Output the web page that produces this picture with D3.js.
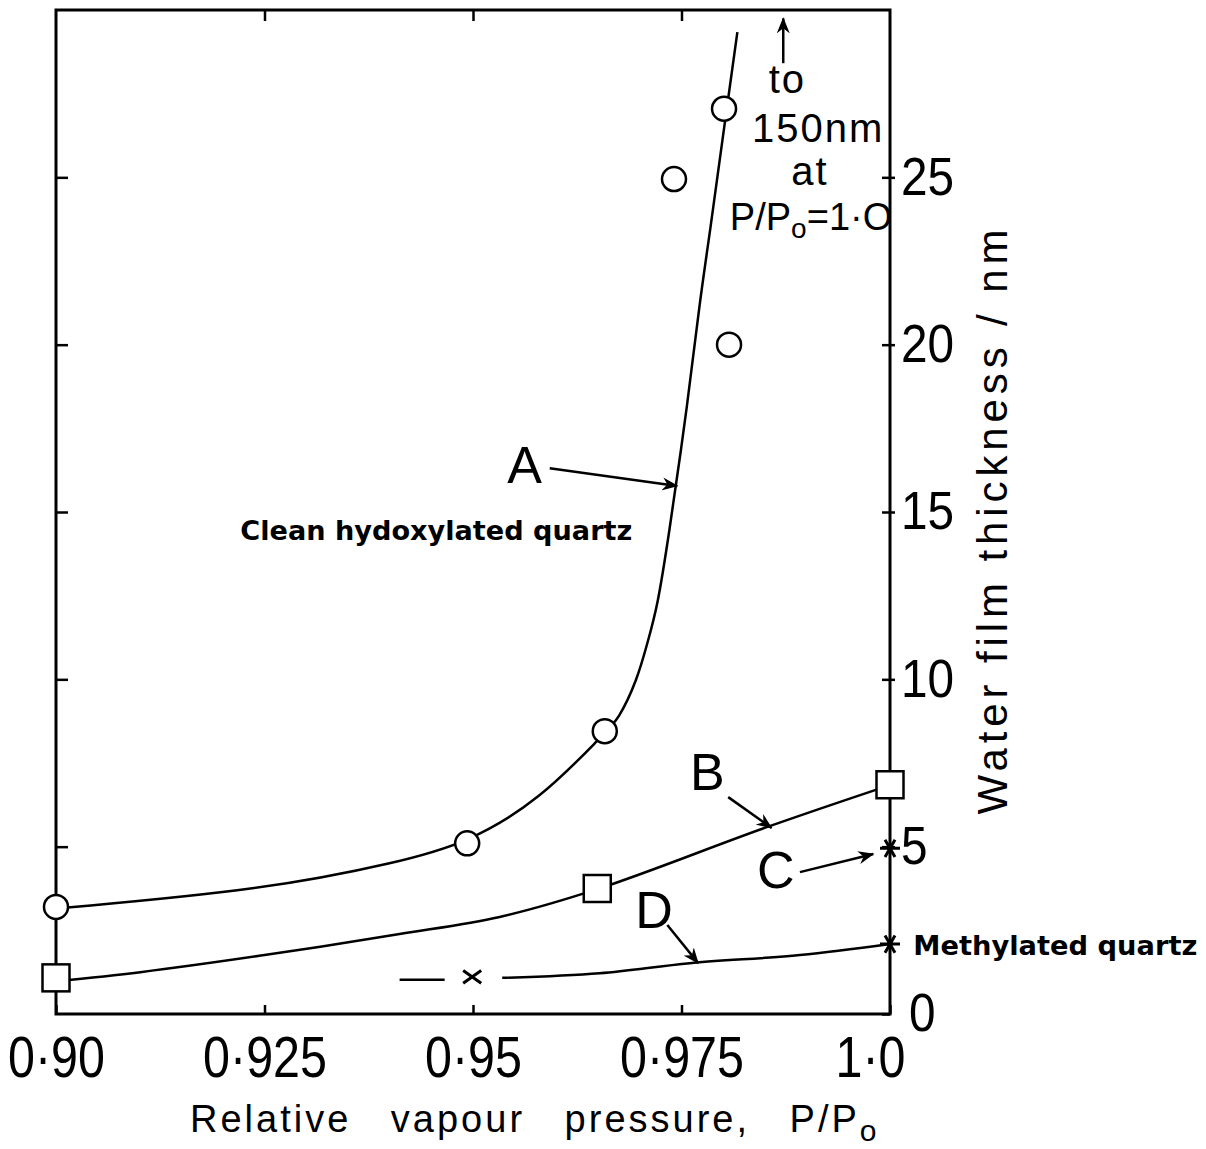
<!DOCTYPE html>
<html>
<head>
<meta charset="utf-8">
<script src="https://cdn.jsdelivr.net/npm/d3@7"></script>
<style>
body { margin: 0; background: #fff; }
svg { display: block; }
.frame { fill: none; stroke: #000; stroke-width: 3; }
.curve { fill: none; stroke: #000; stroke-width: 2.5; }
.marker { fill: #fff; stroke: #000; stroke-width: 2.5; }
.star { fill: none; stroke: #000; stroke-width: 3; }
.arrow { fill: none; stroke: #000; stroke-width: 2.5; }
.draft { font-family: "Liberation Sans", Arial, sans-serif; fill: #000; }
.note { font-family: "DejaVu Sans", sans-serif; font-weight: bold; fill: #000; }
</style>
</head>
<body>
<svg id="chart" width="1206" height="1149"></svg>
<script>
var xTicks = [0.90, 0.925, 0.95, 0.975, 1.0];
var xTickLabels = ["0·90", "0·925", "0·95", "0·975", "1·0"];
var yTicks = [0, 5, 10, 15, 20, 25];

// A: clean hydroxylated quartz
var curveAx = [0.900, 0.925, 0.9412, 0.9493, 0.958, 0.9658, 0.9674, 0.9697, 0.9710, 0.9721, 0.9734, 0.9758, 0.9772, 0.9784, 0.9799, 0.9817];
var curveAy = [3.15, 3.71, 4.54, 5.11, 6.39, 8.40, 8.78, 9.98, 11.17, 12.16, 14.16, 18.34, 21.33, 23.33, 26.11, 29.34];
var pointsAx = [0.900, 0.9493, 0.9658, 0.9741, 0.9807, 0.9801];
var pointsAy = [3.2, 5.1, 8.45, 24.95, 20.0, 27.05];

// B
var curveBx = [0.900, 0.9101, 0.925, 0.9412, 0.9532, 0.9649, 0.9853, 1.0];
var curveBy = [0.98, 1.25, 1.76, 2.39, 2.90, 3.73, 5.59, 6.84];
var pointsBx = [0.900, 0.9649, 1.0];
var pointsBy = [1.08, 3.75, 6.85];

// C
var pointsCx = [1.0];
var pointsCy = [4.95];

// D: methylated quartz (null = gap round the x marker)
var curveDx = [0.9412, 0.9466, null, 0.9535, 0.9652, 0.976, 0.9892, 1.0];
var curveDy = [1.02, 1.02, null, 1.08, 1.22, 1.52, 1.76, 2.09];
var crossDx = [0.9499];
var crossDy = [1.11];
var starDx = [1.0];
var starDy = [2.09];

var svg = d3.select("#chart");
var x = d3.scaleLinear().domain([0.9, 1.0]).range([56, 890]);
var y = d3.scaleLinear().domain([0, 30]).range([1014, 10]);

var defs = svg.append("defs");
defs.append("marker")
    .attr("id", "head")
    .attr("viewBox", "0 -7 16 14")
    .attr("refX", 15).attr("refY", 0)
    .attr("markerWidth", 16).attr("markerHeight", 14)
    .attr("markerUnits", "userSpaceOnUse")
    .attr("orient", "auto")
    .append("path")
    .attr("d", "M0,-6.5L16,0L0,6.5L5,0Z")
    .attr("fill", "#000");

function zip(xs, ys) {
    return xs.map(function(v, i) { return [v, ys[i]]; });
}

// squeeze text horizontally, the drawing lettering is narrow
function narrow(sel, k) {
    sel.each(function() {
        var w = this.getComputedTextLength();
        d3.select(this).attr("textLength", w * k).attr("lengthAdjust", "spacingAndGlyphs");
    });
}

// frame
svg.append("rect")
    .attr("class", "frame")
    .attr("x", x(0.9)).attr("y", y(30))
    .attr("width", x(1.0) - x(0.9))
    .attr("height", y(0) - y(30));

function styleAxis(g, size) {
    g.select(".domain").remove();
    g.attr("font-family", "\"Liberation Sans Narrow\", \"Liberation Sans\", sans-serif")
        .attr("font-size", size);
    g.selectAll(".tick line").attr("stroke-width", 2.5);
    g.selectAll(".tick text").attr("fill", "#000");
}

// bottom axis
var axBottom = svg.append("g")
    .attr("transform", "translate(0," + y(0) + ")")
    .call(d3.axisBottom(x).tickValues(xTicks)
        .tickFormat(function(d, i) { return xTickLabels[i]; })
        .tickSizeInner(-9).tickSizeOuter(0).tickPadding(23));
styleAxis(axBottom, 57);
narrow(axBottom.selectAll(".tick text"), 0.85);
axBottom.selectAll(".tick text").filter(function(d) { return d === 1.0; }).attr("dx", -20);

// top axis (ticks only)
var axTop = svg.append("g")
    .attr("transform", "translate(0," + y(30) + ")")
    .call(d3.axisTop(x).tickValues(xTicks.slice(1, 4)).tickFormat("").tickSizeInner(-11).tickSizeOuter(0));
styleAxis(axTop, 10);

// right axis with labels
var axRight = svg.append("g")
    .attr("transform", "translate(" + x(1.0) + ",0)")
    .call(d3.axisRight(y).tickValues(yTicks)
        .tickSizeInner(-8).tickSizeOuter(0).tickPadding(11));
styleAxis(axRight, 53);
narrow(axRight.selectAll(".tick text"), 0.9);
axRight.selectAll(".tick text").filter(function(d) { return d === 0; }).attr("dx", 8);
axRight.selectAll(".tick").filter(function(d) { return d > 0; })
    .append("line").attr("x2", 5).attr("stroke", "#000").attr("stroke-width", 2.5);

// left axis (ticks only)
var axLeft = svg.append("g")
    .attr("transform", "translate(" + x(0.9) + ",0)")
    .call(d3.axisLeft(y).tickValues(yTicks.slice(1)).tickFormat("").tickSizeInner(-12).tickSizeOuter(0));
styleAxis(axLeft, 10);

// curves
var line = d3.line()
    .defined(function(d) { return d[0] !== null; })
    .x(function(d) { return x(d[0]); })
    .y(function(d) { return y(d[1]); })
    .curve(d3.curveCatmullRom.alpha(0.5));
var smooth = d3.line()
    .x(function(d) { return x(d[0]); })
    .y(function(d) { return y(d[1]); })
    .curve(d3.curveBasis);

svg.append("path").attr("class", "curve").attr("d", smooth(zip(curveAx, curveAy)));
svg.append("path").attr("class", "curve").attr("d", line(zip(curveBx, curveBy)));
svg.append("path").attr("class", "curve").attr("d", line(zip(curveDx, curveDy)));

// markers
svg.selectAll(".ptA")
    .data(zip(pointsAx, pointsAy))
    .enter().append("circle")
    .attr("class", "marker ptA")
    .attr("cx", function(d) { return x(d[0]); })
    .attr("cy", function(d) { return y(d[1]); })
    .attr("r", 12);

var sq = 27;
svg.selectAll(".ptB")
    .data(zip(pointsBx, pointsBy))
    .enter().append("rect")
    .attr("class", "marker ptB")
    .attr("x", function(d) { return x(d[0]) - sq / 2; })
    .attr("y", function(d) { return y(d[1]) - sq / 2; })
    .attr("width", sq).attr("height", sq);

function starPath(r) {
    var p = "";
    [0, 60, 120].forEach(function(a) {
        var t = a * Math.PI / 180;
        p += "M" + (-r * Math.cos(t)) + "," + (-r * Math.sin(t)) + "L" + (r * Math.cos(t)) + "," + (r * Math.sin(t));
    });
    return p;
}
function crossPath(r) {
    return "M" + (-r) + "," + (-r * 0.7) + "L" + r + "," + (r * 0.7) +
        "M" + (-r) + "," + (r * 0.7) + "L" + r + "," + (-r * 0.7);
}

svg.selectAll(".ptC")
    .data(zip(pointsCx, pointsCy).concat(zip(starDx, starDy)))
    .enter().append("path")
    .attr("class", "star ptC")
    .attr("transform", function(d) { return "translate(" + x(d[0]) + "," + y(d[1]) + ")"; })
    .attr("d", starPath(10));

svg.selectAll(".ptD")
    .data(zip(crossDx, crossDy))
    .enter().append("path")
    .attr("class", "star ptD")
    .attr("transform", function(d) { return "translate(" + x(d[0]) + "," + y(d[1]) + ")"; })
    .attr("d", crossPath(9));

// letter labels with arrows
function arrow(x1, y1, x2, y2) {
    svg.append("path").attr("class", "arrow")
        .attr("d", "M" + x(x1) + "," + y(y1) + "L" + x(x2) + "," + y(y2))
        .attr("marker-end", "url(#head)");
}
function letter(xv, yv, s) {
    svg.append("text").attr("class", "draft")
        .attr("x", x(xv)).attr("y", y(yv))
        .attr("text-anchor", "middle")
        .attr("font-size", 52)
        .text(s);
}
letter(0.9562, 15.87, "A");
arrow(0.9592, 16.31, 0.9745, 15.78);
letter(0.9781, 6.69, "B");
arrow(0.9806, 6.48, 0.9858, 5.56);
letter(0.9863, 3.76, "C");
arrow(0.9892, 4.24, 0.9980, 4.78);
letter(0.9717, 2.57, "D");
arrow(0.9733, 2.66, 0.977, 1.52);

// "to 150nm at P/Po = 1.0" note
arrow(0.9872, 28.41, 0.9872, 29.75);
function note(xv, yv, s) {
    return svg.append("text").attr("class", "draft")
        .attr("x", x(xv)).attr("y", y(yv))
        .attr("text-anchor", "middle")
        .attr("font-size", 40)
        .attr("letter-spacing", 2)
        .text(s);
}
note(0.9877, 27.52, "to");
note(0.9914, 26.05, "150nm");
note(0.9904, 24.77, "at");
var pp = svg.append("text").attr("class", "draft")
    .attr("x", x(0.9808)).attr("y", y(23.42))
    .attr("font-size", 38);
pp.append("tspan").text("P/P");
pp.append("tspan").attr("dy", 8).attr("font-size", 28).text("o");
pp.append("tspan").attr("dy", -8).text("=1·O");

// bold notes
svg.append("text").attr("class", "note")
    .attr("x", x(0.9221)).attr("y", y(14.16))
    .attr("font-size", 27)
    .attr("textLength", 392).attr("lengthAdjust", "spacingAndGlyphs")
    .text("Clean hydoxylated quartz");
svg.append("text").attr("class", "note")
    .attr("x", x(1.0028)).attr("y", y(1.76))
    .attr("font-size", 27)
    .attr("textLength", 284).attr("lengthAdjust", "spacingAndGlyphs")
    .text("Methylated quartz");

// axis titles
var xt = svg.append("text").attr("class", "draft")
    .attr("x", 190).attr("y", 1132)
    .attr("font-size", 38)
    .attr("letter-spacing", 3)
    .attr("word-spacing", 26);
xt.append("tspan").text("Relative vapour pressure, P/P");
xt.append("tspan").attr("dy", 9).attr("font-size", 30).text("o");

svg.append("text").attr("class", "draft")
    .attr("transform", "translate(1007,522) rotate(-90)")
    .attr("text-anchor", "middle")
    .attr("font-size", 42)
    .attr("textLength", 585).attr("lengthAdjust", "spacing")
    .text("Water film thickness / nm");
</script>
</body>
</html>
